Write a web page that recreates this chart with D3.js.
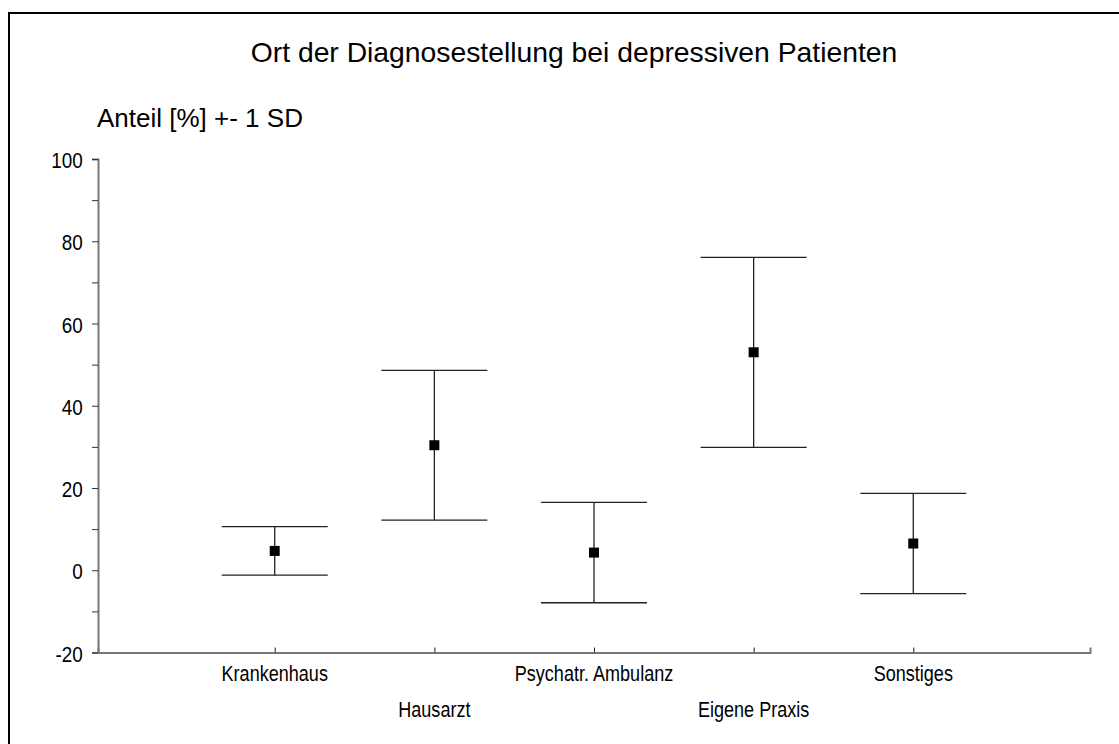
<!DOCTYPE html>
<html>
<head>
<meta charset="utf-8">
<script src="https://cdn.jsdelivr.net/npm/d3@7"></script>
<style>
  body { margin: 0; background: #fff; overflow: hidden; }
  svg { display: block; }
</style>
</head>
<body>
<svg id="chart" width="1119" height="744"></svg>
<script>
// data
const categories = ["Krankenhaus", "Hausarzt", "Psychatr. Ambulanz", "Eigene Praxis", "Sonstiges"];
const means = [4.7, 30.4, 4.3, 53.0, 6.5];
const sds = [5.9, 18.2, 12.2, 23.1, 12.2];
const yTicks = [-20, -10, 0, 10, 20, 30, 40, 50, 60, 70, 80, 90, 100];

const FONT = "Liberation Sans, Arial, sans-serif";
const narrow = 0.84; // squeeze to look like Arial Narrow

const svg = d3.select("#chart");

// frame: only the left and top edges fall inside the picture
svg.append("path")
  .attr("d", "M9,744 V13 H1119")
  .attr("fill", "none").attr("stroke", "#000").attr("stroke-width", 2);

const plotLeft = 98, plotRight = 1090, plotTop = 159, plotBottom = 652.5;

const x = d3.scalePoint()
  .domain(categories)
  .range([plotLeft, plotRight])
  .padding(1.107);

const y = d3.scaleLinear()
  .domain([-20, 100])
  .range([plotBottom, plotTop]);

// title
svg.append("text")
  .attr("x", 574).attr("y", 62)
  .attr("text-anchor", "middle")
  .attr("font-family", FONT)
  .attr("font-size", 28.3)
  .text("Ort der Diagnosestellung bei depressiven Patienten");

// y label
svg.append("text")
  .attr("x", 97).attr("y", 127)
  .attr("font-family", FONT)
  .attr("font-size", 26)
  .text("Anteil [%] +- 1 SD");

// y axis
const yAxis = svg.append("g")
  .attr("transform", "translate(" + plotLeft + ",0)")
  .call(d3.axisLeft(y)
    .tickValues(yTicks)
    .tickSizeOuter(0)
    .tickSize(6)
    .tickFormat(d => d % 20 === 0 ? d : ""));
yAxis.select(".domain").attr("stroke", "#777").attr("stroke-width", 2);
yAxis.selectAll(".tick line").attr("stroke", "#333");
yAxis.selectAll(".tick text")
  .attr("font-family", FONT)
  .attr("font-size", 22.5)
  .attr("fill", "#000")
  .attr("x", -15.3 / narrow)
  .attr("dy", "0.38em")
  .attr("transform", "scale(" + narrow + ",1)");

// x axis
const xAxis = svg.append("g")
  .attr("transform", "translate(0," + plotBottom + ")")
  .call(d3.axisBottom(x).tickSizeOuter(0).tickSize(-5).tickFormat(""));
xAxis.select(".domain").attr("stroke", "#777").attr("stroke-width", 2);
xAxis.selectAll(".tick line").attr("stroke", "#222");

// staggered category labels
svg.append("g").selectAll("text")
  .data(categories)
  .enter().append("text")
  .attr("transform", (d, i) => "translate(" + x(d) + "," + (i % 2 === 0 ? 681 : 717) + ") scale(" + narrow + ",1)")
  .attr("text-anchor", "middle")
  .attr("font-family", FONT)
  .attr("font-size", 21.5)
  .text(d => d);

// error bars
const bars = svg.append("g").selectAll("g")
  .data(categories)
  .enter().append("g");

const capHalf = 53;

bars.append("line")
  .attr("x1", d => x(d)).attr("x2", d => x(d))
  .attr("y1", (d, i) => y(means[i] + sds[i]))
  .attr("y2", (d, i) => y(means[i] - sds[i]))
  .attr("stroke", "#222").attr("stroke-width", 1.3);

bars.append("line")
  .attr("x1", d => x(d) - capHalf).attr("x2", d => x(d) + capHalf)
  .attr("y1", (d, i) => y(means[i] + sds[i]))
  .attr("y2", (d, i) => y(means[i] + sds[i]))
  .attr("stroke", "#222").attr("stroke-width", 1.3);

bars.append("line")
  .attr("x1", d => x(d) - capHalf).attr("x2", d => x(d) + capHalf)
  .attr("y1", (d, i) => y(means[i] - sds[i]))
  .attr("y2", (d, i) => y(means[i] - sds[i]))
  .attr("stroke", "#222").attr("stroke-width", 1.3);

bars.append("rect")
  .attr("x", d => x(d) - 5)
  .attr("y", (d, i) => y(means[i]) - 5)
  .attr("width", 10).attr("height", 10)
  .attr("fill", "#000");
</script>
</body>
</html>
